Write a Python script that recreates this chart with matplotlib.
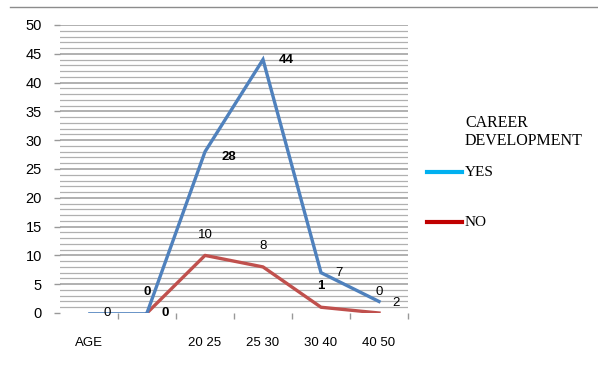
import matplotlib
matplotlib.use("Agg")
import matplotlib.pyplot as plt
from matplotlib.lines import Line2D
import numpy as np

# Age groups (second slot carries no label)
categories = ["AGE", "", "20 25", "25 30", "30 40", "40 50"]
yes_counts = [0, 0, 28, 44, 7, 2]
no_counts = [np.nan, 0, 10, 8, 1, 0]
y_ticks = [0, 5, 10, 15, 20, 25, 30, 35, 40, 45, 50]

legend_title = "CAREER\nDEVELOPMENT"
series_names = ["YES", "NO"]

BLUE = "#4F81BD"
RED = "#C0504D"

fig = plt.figure(figsize=(5.98, 3.65), dpi=100)
ax = fig.add_axes([60 / 598, 1 - 313 / 365, 348 / 598, 288 / 365])

x = np.arange(len(categories))

# light horizontal grid every unit
for v in range(1, 51):
    ax.axhline(v, color="#b0b0b0", lw=0.9 if v % 5 else 1.4, zorder=0)

# thin connector along the baseline, then the two series
ax.plot(x[:2], yes_counts[:2], color=BLUE, lw=1.2, zorder=3)
ax.plot(x[1:], yes_counts[1:], color=BLUE, lw=2.4, zorder=3, solid_joinstyle="miter")
ax.plot(x, no_counts, color=RED, lw=2.4, zorder=2)

# value labels: YES to the right of its points, NO above
yes_bold = [False, True, True, True, False, False]
yes_offset = [(13, 0), (13, 0), (17, -4), (17, 0), (13, 0), (12, -1)]
no_bold = [False, True, False, False, True, False]
for i, v in enumerate(yes_counts):
    ax.annotate(f"{v:g}", (x[i], v), xytext=yes_offset[i], textcoords="offset points",
                ha="center", va="center", fontsize=9.5, family="Liberation Sans",
                fontweight="bold" if yes_bold[i] else "normal", zorder=5)
for i, v in enumerate(no_counts):
    if np.isnan(v):
        continue
    ax.annotate(f"{v:g}", (x[i], v), xytext=(0, 15), textcoords="offset points",
                ha="center", va="center", fontsize=9.5, family="Liberation Sans",
                fontweight="bold" if no_bold[i] else "normal", zorder=5)

ax.set_xlim(-0.5, len(categories) - 0.5)
ax.set_ylim(0, 50)
ax.set_yticks(y_ticks)
ax.set_yticklabels([str(t) for t in y_ticks], family="Liberation Sans", fontsize=10.5)
ax.tick_params(axis="y", length=4, color="#999999", pad=9, width=1)

ax.set_xticks(x)
ax.set_xticklabels(categories, family="Liberation Sans", fontsize=9.5)
ax.set_xticks(np.arange(0.5, len(categories), 1), minor=True)
ax.tick_params(axis="x", which="major", length=0, pad=17)
ax.tick_params(axis="x", which="minor", length=4, color="#999999", width=1)

for s in ax.spines.values():
    s.set_visible(False)
ax.patch.set_alpha(0)

# rule across the top of the figure
fig.add_artist(Line2D([10 / 598, 1.0], [1 - 7 / 365] * 2, color="#8c8c8c", lw=1))

# legend drawn by hand to the right of the plot
fig.text(465 / 598, 1 - 132 / 365, legend_title, family="Liberation Serif",
         fontsize=11.5, va="center", ha="left", linespacing=1.15)
leg_colors = ["#00B0F0", "#C00000"]
leg_y = [172, 222]
for name, c, yy in zip(series_names, leg_colors, leg_y):
    yf = 1 - yy / 365
    fig.add_artist(Line2D([427 / 598, 462 / 598], [yf, yf], color=c, lw=3))
    fig.text(465 / 598, yf, name, family="Liberation Serif", fontsize=11,
             va="center", ha="left")

fig.savefig("out.png", dpi=100)
